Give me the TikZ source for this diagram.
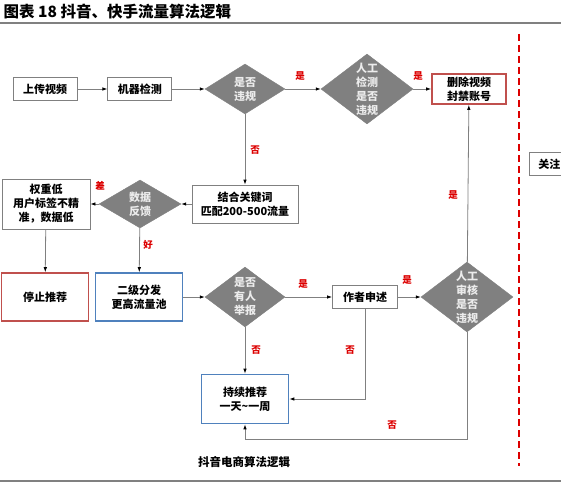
\documentclass[tikz,border=0pt]{standalone}
\usepackage{fontspec}
\newfontfamily\cjk{Noto Sans CJK SC}
\usetikzlibrary{arrows.meta,positioning,shapes.geometric}
\definecolor{rulegray}{RGB}{128,128,128}
\definecolor{boxred}{RGB}{192,80,77}
\definecolor{boxblue}{RGB}{79,129,189}
\definecolor{labred}{RGB}{220,0,0}
\definecolor{diagray}{RGB}{128,128,128}

\begin{document}
\begin{tikzpicture}[
  x=1pt,y=-1pt,
  font=\cjk\bfseries\fontsize{11}{14}\selectfont,
  box/.style={draw=rulegray,line width=0.8pt,align=center,fill=white,
              minimum height=23pt,inner sep=2pt},
  redbox/.style={box,draw=boxred,line width=1.6pt},
  bluebox/.style={box,draw=boxblue,line width=1.6pt},
  decide/.style={diamond,fill=diagray,draw=diagray,inner sep=0pt},
  dtext/.style={text=white!85!gray,align=center,inner sep=0pt,
                font=\cjk\bfseries\fontsize{11}{14}\selectfont},
  lab/.style={text=labred,font=\cjk\bfseries\fontsize{9.5}{11}\selectfont},
  link/.style={draw=rulegray,line width=0.8pt,
               -{Latex[length=5pt,width=3.5pt,black]}}
]
\useasboundingbox (0,0) rectangle (561,484);

% title and rules
\node[anchor=west,font=\cjk\bfseries\fontsize{15.5}{17}\selectfont] (title) at (0,12) {图表 18\ 抖音、快手流量算法逻辑};
\draw[rulegray,line width=1.4pt] (0,23) -- (561,23);
\draw[rulegray,line width=1.4pt] (0,481) -- (561,481);
\draw[labred,line width=1.2pt,dash pattern=on 7pt off 4pt] (519,34) -- (519,466);

% first row
\node[box,minimum width=64pt] (upload) at (45,89) {上传视频};
\node[box,minimum width=64pt,right=30pt of upload] (machine) {机器检测};
\node[decide,minimum width=80pt,minimum height=50pt,
      label={[dtext]center:是否\\违规}] (illegal) at (245,89) {};
\node[decide,minimum width=92pt,minimum height=70pt,
      label={[dtext]center:人工\\检测\\是否\\违规}] (manual) at (367,89) {};
\node[redbox,minimum width=74pt,minimum height=30pt] (ban) at (469,89) {删除视频\\封禁账号};
\node[box,anchor=north west,minimum width=40pt] (follow) at (529,152) {关注};

% second row
\node[box,minimum width=106pt,minimum height=38pt] (keyword) at (245,204) {结合关键词\\匹配200-500流量};
\node[decide,minimum width=82pt,minimum height=48pt,
      label={[dtext]center:数据\\反馈}] (feedback) at (140,204) {};
\node[box,minimum width=88pt,minimum height=50pt] (low) at (46,204) {权重低\\用户标签不精\\准，数据低};

% third row
\node[redbox,minimum width=87pt,minimum height=48pt] (stop) at (45,297) {停止推荐};
\node[bluebox,minimum width=87pt,minimum height=48pt] (pool) at (139,297) {二级分发\\更高流量池};
\node[decide,minimum width=80pt,minimum height=60pt,
      label={[dtext]center:是否\\有人\\举报}] (report) at (245,297) {};
\node[box,minimum width=65pt] (appeal) at (365,297) {作者申述};
\node[decide,minimum width=92pt,minimum height=70pt,
      label={[dtext]center:人工\\审核\\是否\\违规}] (review) at (467,297) {};

% bottom
\node[bluebox,minimum width=87pt,minimum height=49pt] (keep) at (245,399) {持续推荐\\一天\textasciitilde 一周};
\node[font=\cjk\bfseries\fontsize{11.5}{14}\selectfont] (caption) at (244,462) {抖音电商算法逻辑};

% connectors
\draw[link] (upload) -- (machine);
\draw[link] (machine) -- (illegal);
\draw[link] (illegal) -- (manual);
\draw[link] (manual) -- (ban);
\draw[link] (illegal) -- (keyword);
\draw[link] (keyword) -- (feedback);
\draw[link] (feedback) -- (low);
\draw[link] (low) -- (stop);
\draw[link] (feedback) -- (pool);
\draw[link] (pool) -- (report);
\draw[link] (report) -- (appeal);
\draw[link] (appeal) -- (review);
\draw[link] (review) -- (ban);
\draw[link] (report) -- (keep);
\draw[link] (appeal.south) |- (keep.east);
\draw[link] (review.south) -- ++(0,107) -| (keep.south);

% labels
\node[lab] (yes1) at (300,76) {是};
\node[lab] (yes2) at (418,76) {是};
\node[lab] (no1) at (255,150) {否};
\node[lab] (bad) at (100,186) {差};
\node[lab] (good) at (148,245) {好};
\node[lab] (yes3) at (303,284) {是};
\node[lab] (yes4) at (407,280) {是};
\node[lab] (yes5) at (453,195) {是};
\node[lab] (no2) at (256,350) {否};
\node[lab] (no3) at (350,350) {否};
\node[lab] (no4) at (392,425) {否};
\end{tikzpicture}
\end{document}
